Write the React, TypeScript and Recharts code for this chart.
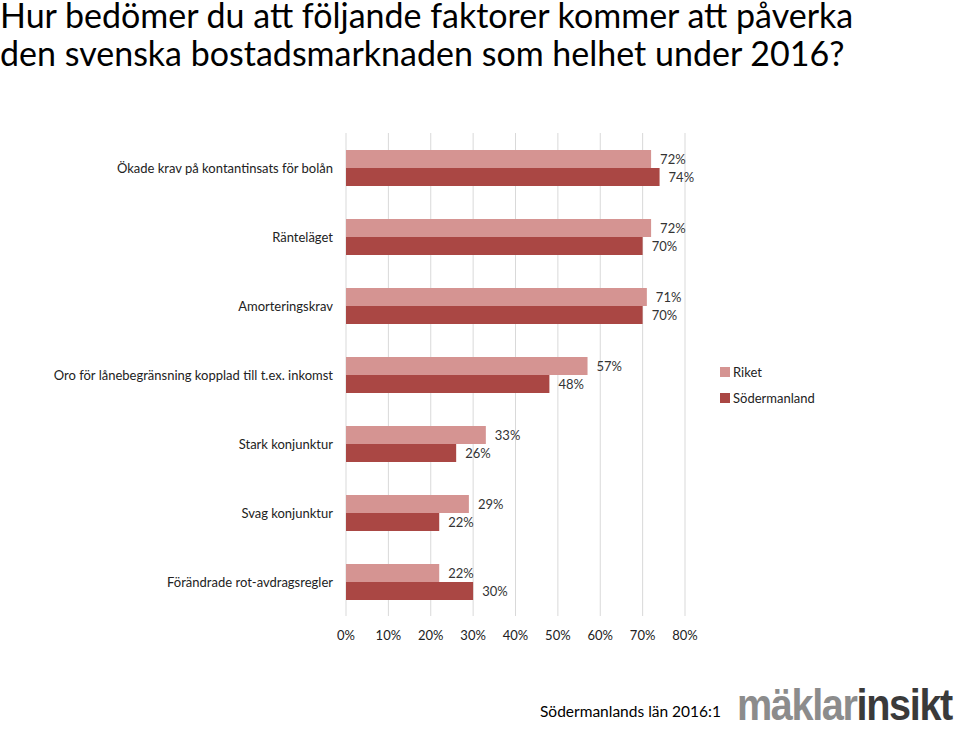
import { BarChart, Bar, XAxis, YAxis, CartesianGrid, Legend, LabelList } from 'recharts';

const categories = [
    'Ökade krav på kontantinsats för bolån',
    'Ränteläget',
    'Amorteringskrav',
    'Oro för lånebegränsning kopplad till t.ex. inkomst',
    'Stark konjunktur',
    'Svag konjunktur',
    'Förändrade rot-avdragsregler',
];
const riket = [72, 72, 71, 57, 33, 29, 22];
const sodermanland = [74, 70, 70, 48, 26, 22, 30];
const xTicks = [0, 10, 20, 30, 40, 50, 60, 70, 80];

const data = categories.map((name, i) => ({ name, riket: riket[i], soder: sodermanland[i] }));

const FONT = 'Lato, "Open Sans", sans-serif';
const RIKET_COLOR = '#D59492';
const SODER_COLOR = '#AA4744';
const TXT = 13;

const CategoryTick = (props: any) => {
    const { x, y, payload } = props;
    return (
        <text x={x} y={y} dy={5} textAnchor="end" fontFamily={FONT} fontSize={TXT} fill="#222">
            {payload.value}
        </text>
    );
};

const PercentTick = (props: any) => {
    const { x, y, payload } = props;
    return (
        <text x={x} y={y} dy={10} textAnchor="middle" fontFamily={FONT} fontSize={TXT} fill="#222">
            {payload.value}%
        </text>
    );
};

const LegendBox = (props: any) => {
    const { payload } = props;
    return (
        <div style={{ fontFamily: FONT, fontSize: TXT, color: '#222' }}>
            {(payload || []).map((p: any) => (
                <div key={p.value} style={{ display: 'flex', alignItems: 'center', height: 26 }}>
                    <span style={{ width: 10, height: 10, background: p.color, marginRight: 3, display: 'inline-block' }} />
                    <span>{p.value}</span>
                </div>
            ))}
        </div>
    );
};

const titleStyle = { position: 'absolute' as const, left: 0, fontFamily: FONT, fontSize: 34, lineHeight: '30px', color: '#000', whiteSpace: 'nowrap' as const };

const App = () => {
    return (
        <div style={{ position: 'absolute', left: 0, top: 0, width: 960, height: 729, background: '#fff', overflow: 'hidden' }}>
            <div style={{ ...titleStyle, top: 0 }}>Hur bedömer du att följande faktorer kommer att påverka</div>
            <div style={{ ...titleStyle, top: 38 }}>den svenska bostadsmarknaden som helhet under 2016?</div>
            <BarChart
                width={960}
                height={729}
                data={data}
                layout="vertical"
                margin={{ top: 133, right: 275, left: 0, bottom: 83 }}
                barSize={18}
                barGap={0}
                style={{ position: 'absolute', left: 0, top: 0 }}
            >
                <CartesianGrid horizontal={false} stroke="#D9D9D9" />
                <XAxis
                    type="number"
                    domain={[0, 80]}
                    ticks={xTicks}
                    tick={<PercentTick />}
                    tickLine={false}
                    axisLine={false}
                    tickMargin={8}
                    height={30}
                    interval={0}
                />
                <YAxis
                    type="category"
                    dataKey="name"
                    width={346}
                    tick={<CategoryTick />}
                    tickLine={false}
                    axisLine={false}
                    tickMargin={7}
                    interval={0}
                />
                <Legend
                    layout="horizontal"
                    verticalAlign="middle"
                    align="center"
                    content={<LegendBox />}
                    wrapperStyle={{ left: 720, top: 359, width: 120 }}
                />
                <Bar dataKey="riket" name="Riket" fill={RIKET_COLOR} isAnimationActive={false}>
                    <LabelList dataKey="riket" position="right" offset={9} formatter={(v: any) => v + '%'} style={{ fontFamily: FONT, fontSize: TXT, fill: '#333' }} />
                </Bar>
                <Bar dataKey="soder" name="Södermanland" fill={SODER_COLOR} isAnimationActive={false}>
                    <LabelList dataKey="soder" position="right" offset={9} formatter={(v: any) => v + '%'} style={{ fontFamily: FONT, fontSize: TXT, fill: '#333' }} />
                </Bar>
            </BarChart>
            <div style={{ position: 'absolute', left: 540, top: 702, fontFamily: FONT, fontSize: 15.5, color: '#000' }}>
                Södermanlands län 2016:1
            </div>
            <div style={{ position: 'absolute', left: 737, top: 680, fontFamily: '"Liberation Sans", Arial, sans-serif', fontWeight: 'bold', fontSize: 44, letterSpacing: -1.5, lineHeight: '50px', whiteSpace: 'nowrap', transform: 'scaleX(0.9)', transformOrigin: 'left top' }}>
                <span style={{ color: '#8C8C8C' }}>mäklar</span>
                <span style={{ color: '#3A3A3A' }}>insikt</span>
            </div>
        </div>
    );
};

export default App;
